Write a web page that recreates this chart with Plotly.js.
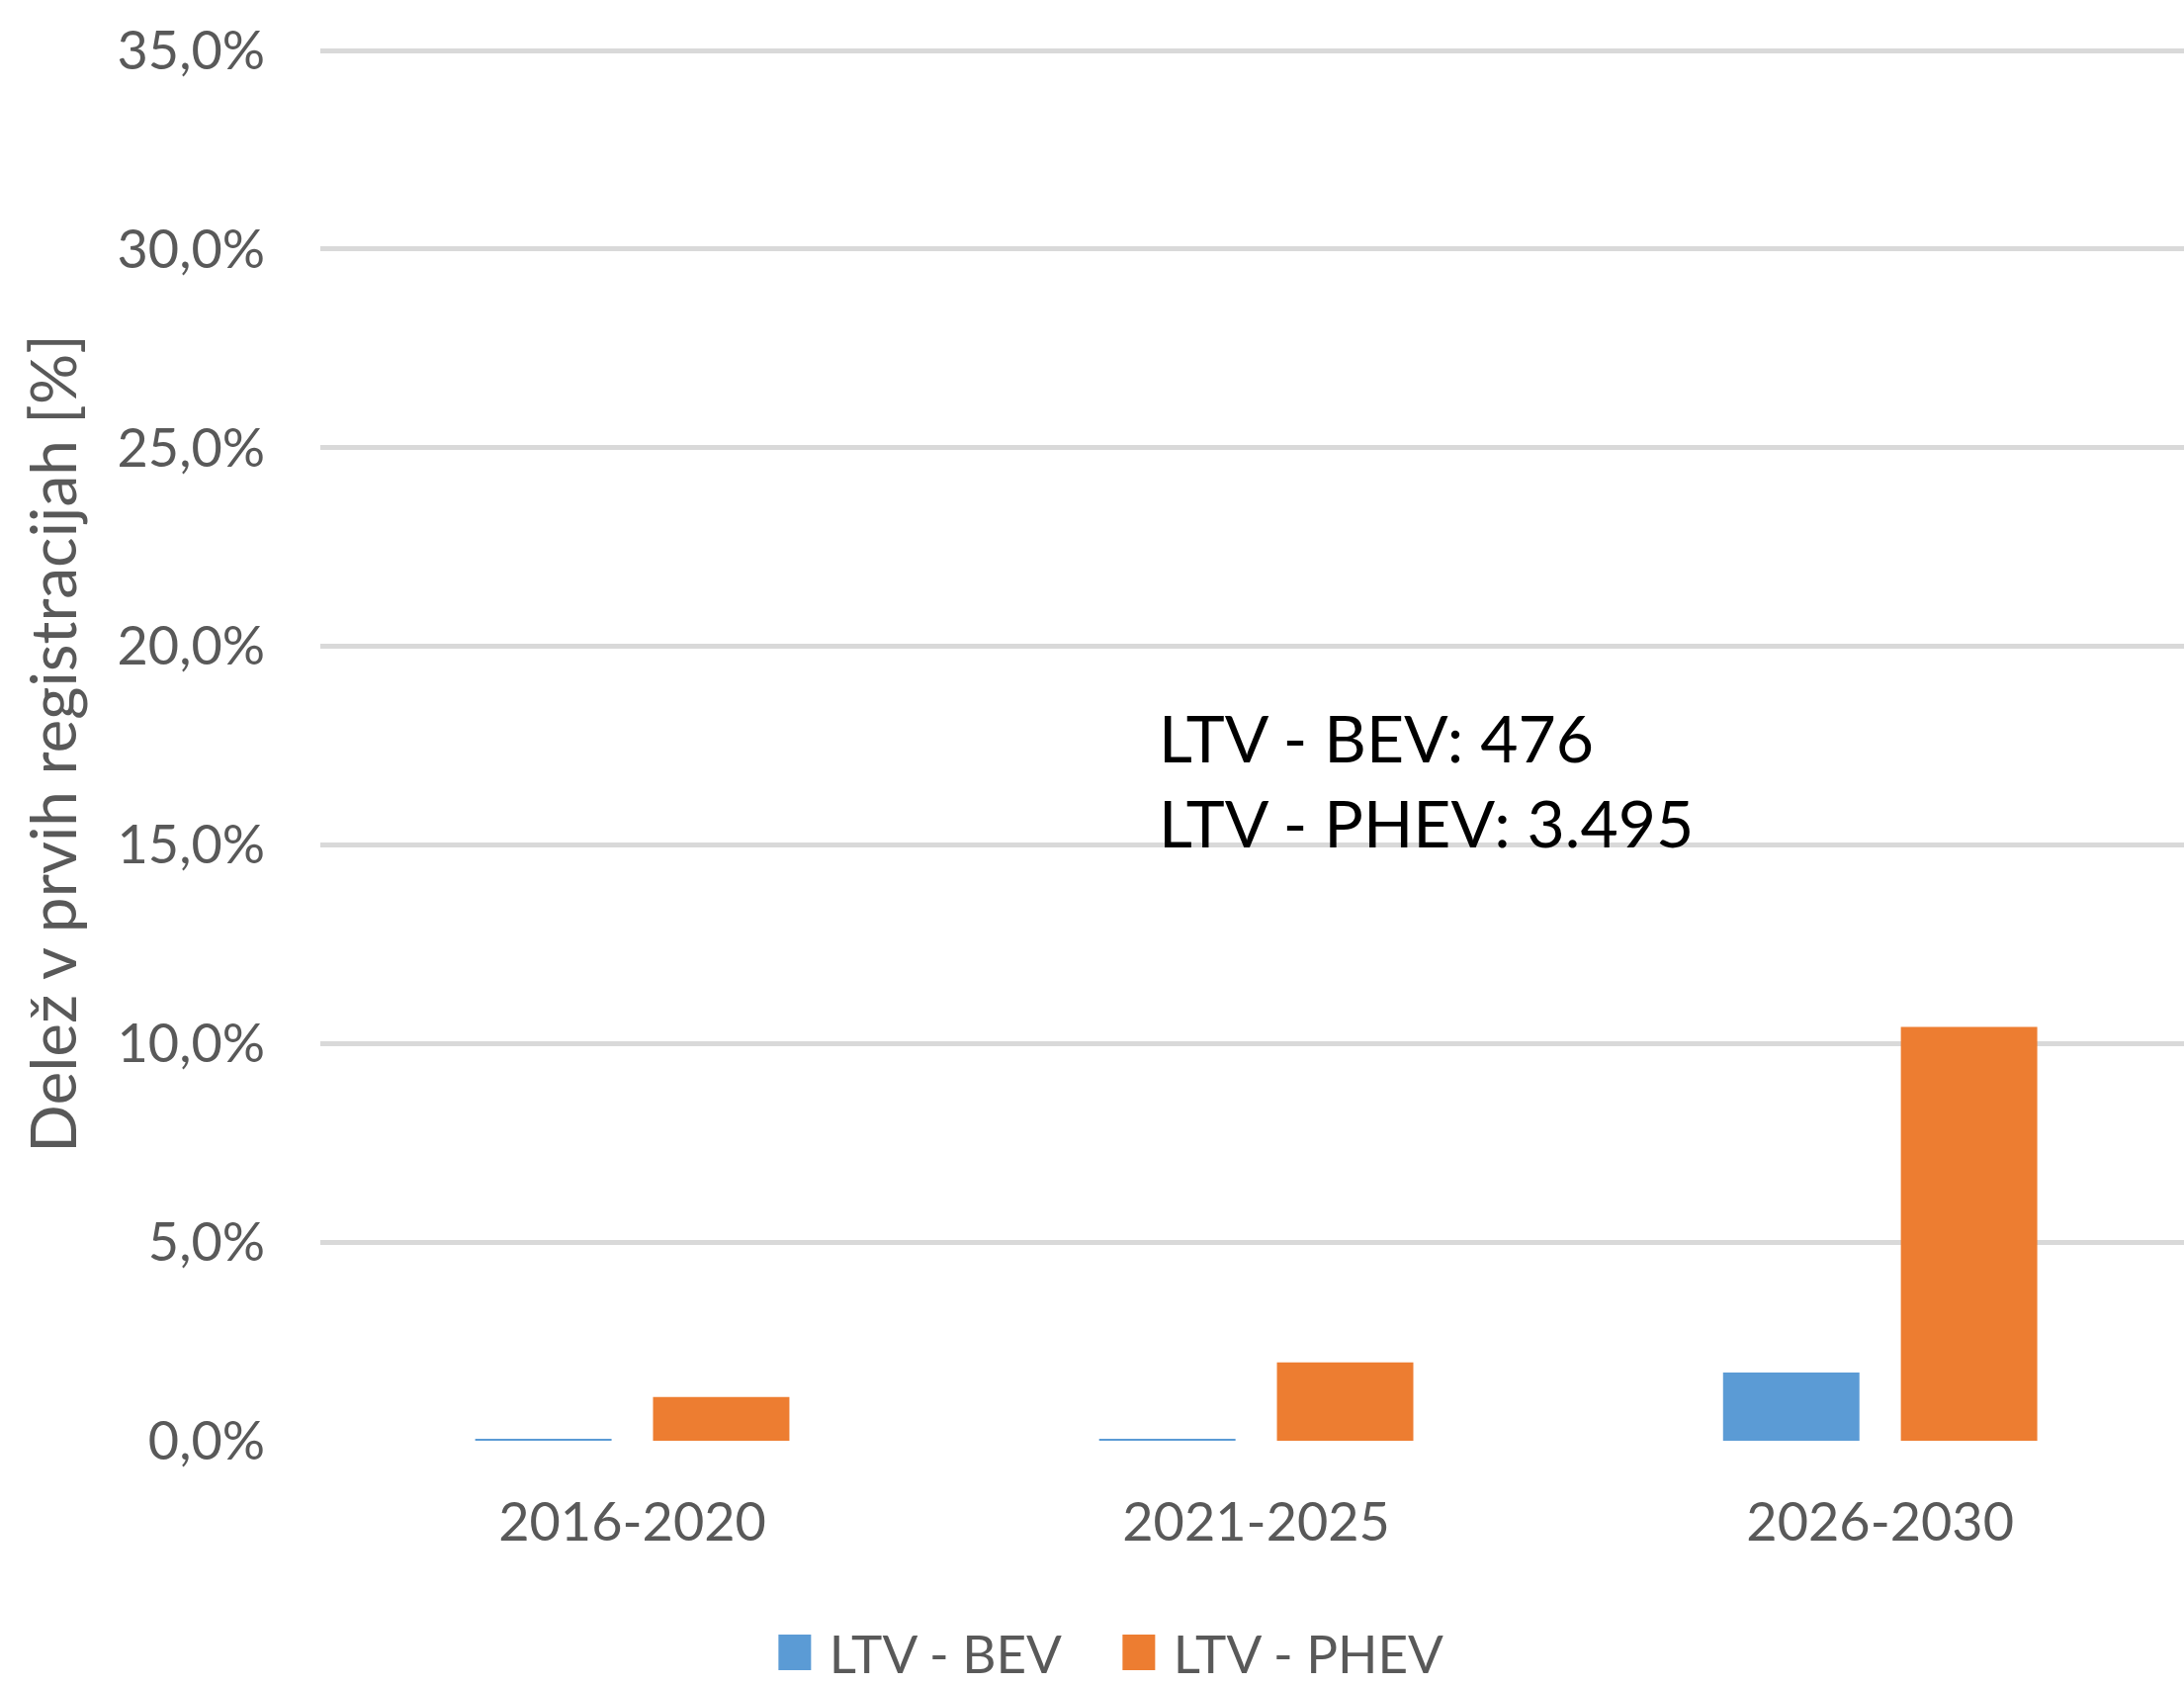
<!DOCTYPE html>
<html>
<head>
<meta charset="utf-8">
<script src="https://cdn.plot.ly/plotly-3.0.1.min.js"></script>
<style>
html,body{margin:0;padding:0;background:#fff;overflow:hidden;}
#chart{width:2209px;height:1704px;}
</style>
</head>
<body>
<div id="chart"></div>
<script>
const categories = ["2016-2020", "2021-2025", "2026-2030"];
const bevValues = [0.05, 0.05, 1.72];
const phevValues = [1.10, 1.97, 10.42];
const seriesNames = ["LTV - BEV", "LTV - PHEV"];
const yTickValues = [0, 5, 10, 15, 20, 25, 30, 35];
const yTickLabels = ["0,0%", "5,0%", "10,0%", "15,0%", "20,0%", "25,0%", "30,0%", "35,0%"];
const annotationLines = ["LTV - BEV: 476", "LTV - PHEV: 3.495"];
const yTitle = "Delež v prvih registracijah [%]";

const FONT = "Lato, 'Open Sans', sans-serif";

const traces = [
  {type: "bar", name: seriesNames[0], x: categories, y: bevValues,
   marker: {color: "#5B9BD5"}, hoverinfo: "skip"},
  {type: "bar", name: seriesNames[1], x: categories, y: phevValues,
   marker: {color: "#ED7D31"}, hoverinfo: "skip"}
];

const layout = {
  width: 2209, height: 1704,
  paper_bgcolor: "#ffffff", plot_bgcolor: "#ffffff",
  margin: {l: 324, r: 0, t: 47, b: 247},
  barmode: "group", bargap: 0.43, bargroupgap: 0.233,
  font: {family: FONT, color: "#595959", size: 54},
  xaxis: {
    type: "category", range: [-0.5, 2.487],
    showgrid: false, zeroline: false, showline: false,
    ticks: "", tickfont: {family: FONT, size: 54, color: "#595959"},
    ticklabelstandoff: 46
  },
  yaxis: {
    range: [0, 35.1], tickvals: yTickValues, ticktext: yTickLabels,
    showgrid: true, gridcolor: "#d9d9d9", gridwidth: 5,
    zeroline: false, showline: false, ticks: "",
    tickfont: {family: FONT, size: 54, color: "#595959"},
    ticklabelstandoff: 55,
    title: {text: yTitle, font: {family: FONT, size: 64, color: "#595959"}, standoff: 20}
  },
  showlegend: true,
  legend: {
    orientation: "h", xref: "paper", x: 0.236, xanchor: "left",
    yref: "container", y: 0, yanchor: "bottom",
    font: {family: FONT, size: 53, color: "#595959"},
    itemwidth: 60, entrywidth: 273, traceorder: "normal"
  },
  annotations: [{
    xref: "paper", yref: "paper", x: 0.449, y: 0.474,
    xanchor: "left", yanchor: "middle", align: "left", showarrow: false,
    text: annotationLines.join("<br>"),
    font: {family: FONT, size: 66, color: "#000000"}
  }]
};

Plotly.newPlot("chart", traces, layout, {staticPlot: true, displayModeBar: false}).then(function () {
  document.querySelectorAll("#chart .legendpoints path").forEach(function (p) {
    const t = p.getAttribute("transform") || "";
    p.setAttribute("transform", t + " scale(2.75,3)");
  });
  const lg = document.querySelector("#chart g.legend");
  if (lg) {
    lg.setAttribute("transform", (lg.getAttribute("transform") || "") + " translate(0,8)");
  }
});
</script>
</body>
</html>
